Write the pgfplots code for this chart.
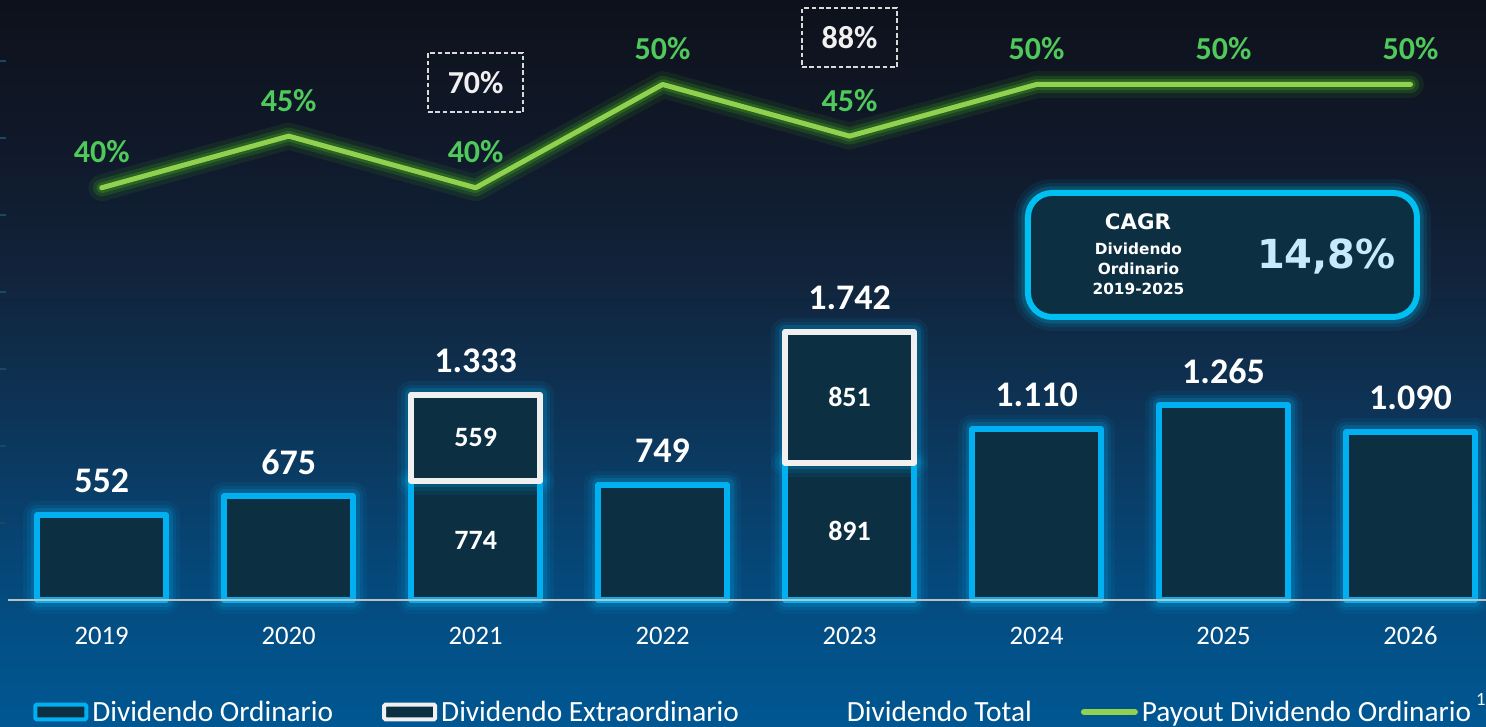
\documentclass[border=0pt]{standalone}
\usepackage{fontspec}
\setmainfont{Carlito}
\newfontfamily\dejavu{DejaVu Sans}
\usepackage{pgfplots}
\usepackage{pgfplotstable}
\pgfplotsset{compat=1.18}

\definecolor{cyanbar}{HTML}{00B0F0}
\definecolor{barfill}{HTML}{0C2F42}
\definecolor{whitebox}{HTML}{F0F0F0}
\definecolor{greenline}{HTML}{92D050}
\definecolor{greenglow}{HTML}{3FA020}
\definecolor{greentext}{HTML}{4FC95B}
\definecolor{basegray}{HTML}{BFBFBF}
\definecolor{tickc}{HTML}{1C4763}
\definecolor{boxgray}{HTML}{D9D9D9}
\definecolor{cagrc}{HTML}{00C0F2}
\definecolor{cagrtext}{HTML}{C6EBFB}
\definecolor{bg0}{HTML}{005792}
\definecolor{bg1}{HTML}{025188}
\definecolor{bg2}{HTML}{044B7F}
\definecolor{bg3}{HTML}{0A3C65}
\definecolor{bg4}{HTML}{0E3050}
\definecolor{bg5}{HTML}{11243C}
\definecolor{bg6}{HTML}{10192A}
\definecolor{bg7}{HTML}{0E111B}

\pgfdeclareverticalshading{slidebg}{100bp}{color(0bp)=(bg0); color(25bp)=(bg0);
  color(30.3bp)=(bg1); color(33.7bp)=(bg2); color(42bp)=(bg3); color(48.9bp)=(bg4);
  color(55.7bp)=(bg5); color(64.7bp)=(bg6); color(75bp)=(bg7); color(100bp)=(bg7)}

\tikzset{
  glow/.style={preaction={draw=#1, draw opacity=0.07, line width=21pt},
               preaction={draw=#1, draw opacity=0.10, line width=15pt},
               preaction={draw=#1, draw opacity=0.18, line width=10pt}},
  lineglow/.style={preaction={draw=greenglow, draw opacity=0.12, line width=20pt, line join=round, line cap=round},
                   preaction={draw=greenglow, draw opacity=0.22, line width=13pt, line join=round, line cap=round},
                   preaction={draw=greenglow, draw opacity=0.35, line width=8pt, line join=round, line cap=round}},
}

% 1 px of the slide = 0.75pt
\pgfplotsset{
  /pgf/number format/assume math mode=true,
  /pgf/number format/1000 sep={.},
  slide/.style={
    width=1114.5pt, height=545.25pt, scale only axis,
    at={(0,0)}, anchor=south west,
    xmin=-0.544, xmax=7.404,
    axis line style={draw=none},
    xtick=\empty, ytick=\empty,
  },
  barunits/.style={ymin=-824.7, ymax=3896.1},
}

\pgfplotstableread{
x ord tot
0 552 552
1 675 675
2 774 1333
3 749 749
4 891 1742
5 1110 1110
6 1265 1265
7 1090 1090
}\bars

\pgfplotstableread{
x ord ext
2 774 559
4 891 851
}\extra

% label positions inside the bar segments
\pgfplotstableread{
x y v
2 387 774
2 1053.5 559
4 445.5 891
4 1316.5 851
}\inner

\pgfplotstableread{
x pct
0 40
1 45
2 40
3 50
4 45
5 50
6 50
7 50
}\payout

% payout incl. extraordinary (dashed boxes)
\pgfplotstableread{
x y v
2 50.19 70
4 54.5 88
}\payouttot

\begin{document}
\begin{tikzpicture}
% background, ordinary bars, years, legend
\begin{axis}[slide, barunits, name=A,
  axis background/.style={shade, shading=slidebg},
  ytick={500,1000,...,3500}, yticklabels={}, ytick pos=left,
  ytick style={draw=tickc, line width=1.5pt},
  tick align=inside, major tick length=4.5pt,
  xtick={0,...,7}, xticklabels={2019,2020,2021,2022,2023,2024,2025,2026},
  xtick style={draw=none},
  xticklabel style={anchor=center, yshift=68.25pt, text=white,
    font=\fontsize{20}{24}\selectfont},
  bar width=0.688,
  legend columns=4, legend cell align=left,
  legend style={at={(0.0222,0.0206)}, anchor=west, draw=none, fill=none,
    inner sep=0pt, text=white, font=\fontsize{22}{26}\selectfont,
    nodes={inner sep=0pt},
    /tikz/every odd column/.append style={column sep=3pt},
    /tikz/every even column/.append style={column sep=36.75pt}},
]
\addplot[ybar, bar shift=0pt, forget plot, draw=cyanbar, fill=barfill,
  line width=4.5pt, line join=round, glow=cyanbar]
  table[x=x, y=ord] {\bars};
\draw[basegray, line width=1.5pt] (axis cs:-0.5,0) -- (axis cs:7.5,0);

\addlegendimage{legend image code/.code={
  \draw[cyanbar, line width=3pt, fill=barfill, rounded corners=1pt]
    (1.5pt,-5.5pt) rectangle (39.75pt,5.5pt);}}
\addlegendentry{Dividendo Ordinario}
\addlegendimage{legend image code/.code={
  \draw[whitebox, line width=3pt, fill=barfill, rounded corners=1pt]
    (1.5pt,-5.5pt) rectangle (39.75pt,5.5pt);}}
\addlegendentry{Dividendo Extraordinario}
\addlegendimage{draw=none, fill=none, legend image code/.code={
  \path[draw=none, fill=none] (0pt,-5.5pt) rectangle (41.25pt,5.5pt);}}
\addlegendentry{Dividendo Total}
\addlegendimage{legend image code/.code={
  \draw[greenline, line width=4.5pt, line cap=round]
    (2.25pt,0pt) -- (40.5pt,0pt);}}
\addlegendentry{Payout Dividendo Ordinario}
\end{axis}

% extraordinary dividend stacked on top
\begin{axis}[slide, barunits, ybar stacked, bar width=0.688]
\addplot[draw=none, fill=none] table[x=x, y=ord] {\extra};
\addplot[draw=whitebox, fill=barfill, line width=4.5pt, line join=round,
  glow=cyanbar] table[x=x, y=ext] {\extra};
\end{axis}

% values on the bars
\begin{axis}[slide, barunits]
\addplot[draw=none, point meta=explicit, nodes near coords,
  nodes near coords style={anchor=center, text=white,
    font=\bfseries\fontsize{21}{24}\selectfont}]
  table[x=x, y=y, meta=v] {\inner};
\addplot[draw=none, point meta=y, nodes near coords,
  nodes near coords style={anchor=center, yshift=25.5pt, text=white,
    font=\bfseries\fontsize{27}{30}\selectfont}]
  table[x=x, y=tot] {\bars};
\end{axis}

% payout line
\begin{axis}[slide, ymin=-12.198, ymax=58.18]
\addplot[greenline, line width=3.75pt, line join=round, line cap=round, lineglow]
  table[x=x, y=pct] {\payout};
\addplot[draw=none, point meta=y,
  nodes near coords={\pgfmathprintnumber{\pgfplotspointmeta}\%},
  nodes near coords style={anchor=center, yshift=27pt, text=greentext,
    font=\bfseries\fontsize{24}{28}\selectfont}]
  table[x=x, y=pct] {\payout};
\addplot[draw=none, point meta=explicit,
  nodes near coords={\pgfmathprintnumber{\pgfplotspointmeta}\%},
  nodes near coords style={anchor=center, text=whitebox,
    draw=boxgray, line width=1.5pt, dash pattern=on 3.5pt off 2pt,
    minimum width=71.25pt, minimum height=44.25pt,
    font=\bfseries\fontsize{24}{28}\selectfont}]
  table[x=x, y=y, meta=v] {\payouttot};
\end{axis}

% CAGR box, drawn in slide pixels
\begin{scope}[shift={(A.north west)}, x=0.75pt, y=-0.75pt]
\draw[draw=cagrc, line width=4.5pt, fill=barfill, rounded corners=18pt, glow=cagrc]
  (1028,193) rectangle (1417,317);
\node[text=white, font=\dejavu\bfseries\fontsize{16}{18}\selectfont] at (1138,222) {CAGR};
\node[text=white, font=\dejavu\bfseries\fontsize{11.5}{13}\selectfont] at (1138.5,248.5) {Dividendo};
\node[text=white, font=\dejavu\bfseries\fontsize{11.5}{13}\selectfont] at (1138.5,269) {Ordinario};
\node[text=white, font=\dejavu\bfseries\fontsize{11.5}{13}\selectfont] at (1138.5,289) {2019-2025};
\node[text=cagrtext, font=\dejavu\bfseries\fontsize{30}{34}\selectfont] at (1326.5,257) {14,8\%};
\node[text=white, anchor=west, inner sep=0pt, font=\fontsize{14}{16}\selectfont] at (1476,700) {1};
\end{scope}

\pgfresetboundingbox
\path[use as bounding box] (A.south west) rectangle (A.north east);
\end{tikzpicture}
\end{document}
